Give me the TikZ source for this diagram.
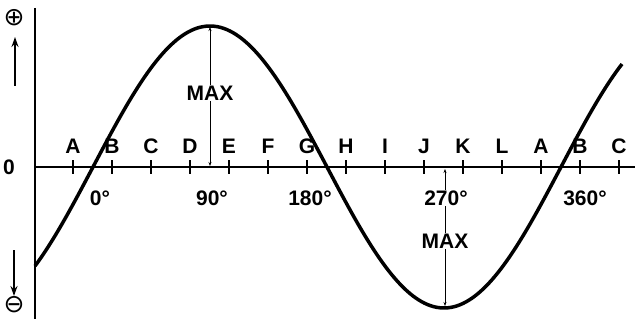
\documentclass[tikz,border=0pt]{standalone}
\usepackage{fontspec}
\setmainfont{Liberation Sans}
\newfontfamily\symfont{DejaVu Sans}
\usetikzlibrary{arrows.meta,calc}

\tikzset{
    lbl/.style={font=\bfseries\fontsize{21}{21}\selectfont, inner sep=1pt},
    maxline/.style={line width=0.8pt, {Stealth[length=4pt,width=3pt]}-{Stealth[length=4pt,width=3pt]}},
    sign/.style={font=\symfont\fontsize{25}{25}\selectfont, inner sep=0pt},
    signarrow/.style={line width=2.2pt, -{Stealth[length=10pt,width=7pt]}}
}

\begin{document}
\begin{tikzpicture}[x=1pt,y=-1pt]
    \useasboundingbox (0,0) rectangle (635,321);

    % Axes
    \coordinate (top) at (35,8);
    \coordinate (bot) at (35,319);
    \coordinate (O) at (35,167);
    \coordinate (end) at (635,167);
    \draw[line width=2.5pt] (top)--(bot);
    \draw[line width=2.5pt] (O)--(end);
    \node[lbl] (zero) at (9,167) {0};

    % Ticks and letters
    \foreach \k/\lt in {0/A,1/B,2/C,3/D,4/E,5/F,6/G,7/H,8/I,9/J,10/K,11/L,12/A,13/B,14/C}
    {
        \draw[line width=1.8pt] (73+39*\k,160)--(73+39*\k,174);
        \node[lbl] (let\k) at (73+39*\k,146) {\lt};
    }

    % Sine wave
    \draw[line width=3.5pt] plot[domain=35:622,samples=200] (\x,{167-141*sin((\x-93)/468*360)});

    % Max markers
    \coordinate (peak) at (210,27);
    \coordinate (ax90) at (210,166);
    \draw[maxline] (ax90)--(peak);
    \node[lbl,fill=white] (maxtop) at (210,93) {MAX};
    \coordinate (ax270) at (445,169);
    \coordinate (trough) at (445,306);
    \draw[maxline] (ax270)--(trough);
    \node[lbl,fill=white] (maxbot) at (445,241) {MAX};

    % Degrees
    \foreach \xx/\dg in {100/0,212/90,310/180,446/270,585/360}
        \node[lbl,fill=white] (deg\dg) at (\xx,198) {\dg°};

    % Signs
    \node[sign] (plus) at (14,18) {⊕};
    \node[sign] (minus) at (14,305) {⊖};
    \coordinate (upa) at (15,86);
    \coordinate (upb) at (15,37);
    \coordinate (dna) at (14,250);
    \coordinate (dnb) at (14,296);
    \draw[signarrow] (upa)--(upb);
    \draw[signarrow] (dna)--(dnb);
\end{tikzpicture}
\end{document}
